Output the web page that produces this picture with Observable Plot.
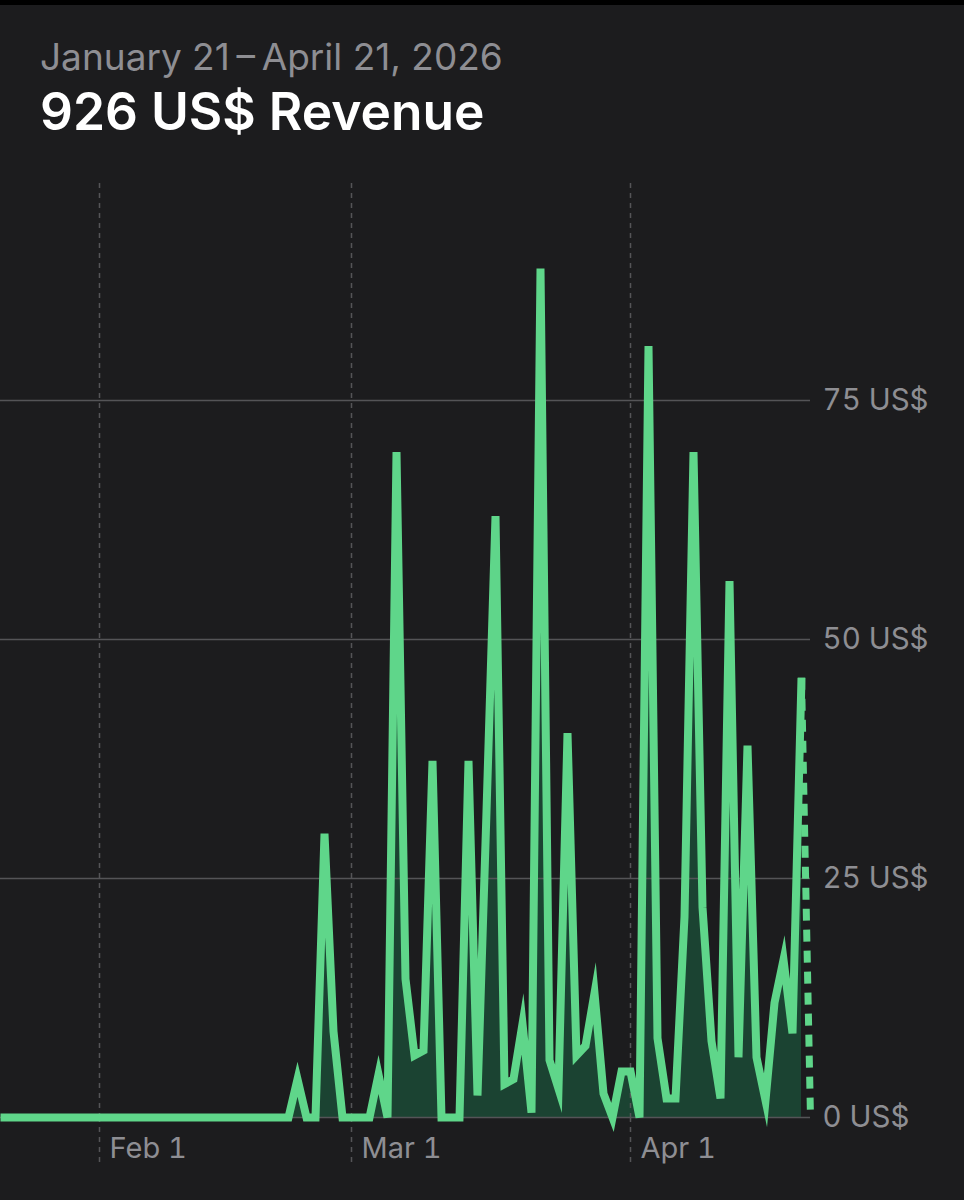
<!DOCTYPE html>
<html>
<head>
<meta charset="utf-8">
<script src="https://cdn.jsdelivr.net/npm/d3@7"></script>
<script src="https://cdn.jsdelivr.net/npm/@observablehq/plot@0.6"></script>
<style>
  html, body { margin: 0; padding: 0; background: #1c1c1e; }
  body { position: relative; width: 964px; height: 1200px; overflow: hidden; font-family: Inter, "Noto Sans", sans-serif; }
  #topbar { position: absolute; left: 0; top: 0; width: 964px; height: 5px; background: #000; }
  #sub { position: absolute; left: 40px; top: 38px; font-size: 37px; line-height: 1; color: #8e8e93; white-space: nowrap; }
  #title { position: absolute; left: 40px; top: 86px; font-size: 51.5px; line-height: 1; font-weight: 600; color: #ffffff; white-space: nowrap; }
  #chart { position: absolute; left: 0; top: 150px; }
</style>
</head>
<body>
<div id="topbar"></div>
<div id="sub">January 21&#8201;–&#8201;April 21, 2026</div>
<div id="title">926 US$ Revenue</div>
<div id="chart"></div>
<script>
// ---- data ----
const startDate = "2026-01-21";
const endDate = "2026-04-21";
// daily revenue (US$), Jan 21 .. Apr 20
const revenue = [
  0, 0, 0, 0, 0, 0, 0, 0, 0, 0,          // Jan 21-30
  0, 0, 0, 0, 0, 0, 0, 0, 0, 0,          // Jan 31 - Feb 9
  0, 0, 0, 0, 0, 0, 0, 0, 0, 0,          // Feb 10-19
  0, 0, 0, 4, 0, 0, 29.7, 9, 0, 0,       // Feb 20 - Mar 1
  0, 0, 4.5, 0, 69.6, 14.5, 6.5, 7, 37.3, 0,   // Mar 2-11
  0, 0, 37.3, 2.3, 32, 62.9, 3.5, 4, 9.8, 0.5, // Mar 12-21
  88.8, 6, 3, 40.2, 6.5, 7.5, 13, 2.5, 0, 4.8, // Mar 22-31
  4.8, 0, 80.7, 8.3, 2, 2, 21, 69.6, 22, 8,    // Apr 1-10
  2, 56.1, 6.3, 38.9, 6.3, 1.8, 12, 16.5, 8.8, 46 // Apr 11-20
];
const projectedEnd = 0; // Apr 21 (partial day, dashed)
const tickDates = ["2026-02-01", "2026-03-01", "2026-04-01"];
const tickLabels = ["Feb 1", "Mar 1", "Apr 1"];
const yTicks = [0, 25, 50, 75];
const yUnit = "US$";

// ---- build tables ----
const parse = d3.utcParse("%Y-%m-%d");
const start = parse(startDate);
const end = parse(endDate);
const series = revenue.map((v, i) => ({ date: d3.utcDay.offset(start, i), value: v }));
const last = series[series.length - 1];
const projected = [last, { date: end, value: projectedEnd }];
const ticks = tickDates.map(parse);
const labelFor = d => tickLabels[ticks.findIndex(t => +t === +d)];

const lineColor = "#5fd68a";
const areaColor = "#1b4332";
const gridColor = "#545457";
const textColor = "#8e8e93";

const chart = Plot.plot({
  width: 964,
  height: 1050,
  marginTop: 33,
  marginBottom: 83,
  marginLeft: 0,
  marginRight: 154,
  x: { type: "utc", domain: [start, end], label: null },
  y: { domain: [0, 97.7], label: null },
  style: { background: "transparent", fontFamily: "Inter, 'Noto Sans', sans-serif", fontSize: "30px", color: textColor, overflow: "visible" },
  marks: [
    Plot.areaY(series, { x: "date", y: "value", fill: areaColor, curve: "linear" }),
    Plot.gridY(yTicks, { stroke: gridColor, strokeOpacity: 1, strokeWidth: 1.5 }),
    Plot.gridX(ticks, { stroke: gridColor, strokeOpacity: 1, strokeWidth: 1.5, strokeDasharray: "5,5" }),
    Plot.axisX(ticks, { anchor: "bottom", label: null, tickSize: 48, tickFormat: () => "", stroke: gridColor, strokeOpacity: 1, strokeWidth: 1.5, strokeDasharray: "5,5" }),
    Plot.axisX(ticks, { anchor: "bottom", label: null, tickSize: 0, tickPadding: 0, tickFormat: labelFor, textAnchor: "start", dx: 10, dy: 20, fill: textColor, fontSize: 29 }),
    Plot.axisY(yTicks, { anchor: "right", label: null, tickSize: 0, tickPadding: 12, tickFormat: d => `${d} ${yUnit}`, fill: textColor, fontSize: 29.5 }),
    Plot.lineY(projected, { x: "date", y: "value", stroke: lineColor, strokeWidth: 7, strokeDasharray: "12,9", strokeLinecap: "butt" }),
    Plot.lineY(series, { x: "date", y: "value", stroke: lineColor, strokeWidth: 8, strokeLinejoin: "miter", strokeMiterlimit: 8, strokeLinecap: "butt", curve: "linear" })
  ]
});
document.getElementById("chart").appendChild(chart);
</script>
</body>
</html>
